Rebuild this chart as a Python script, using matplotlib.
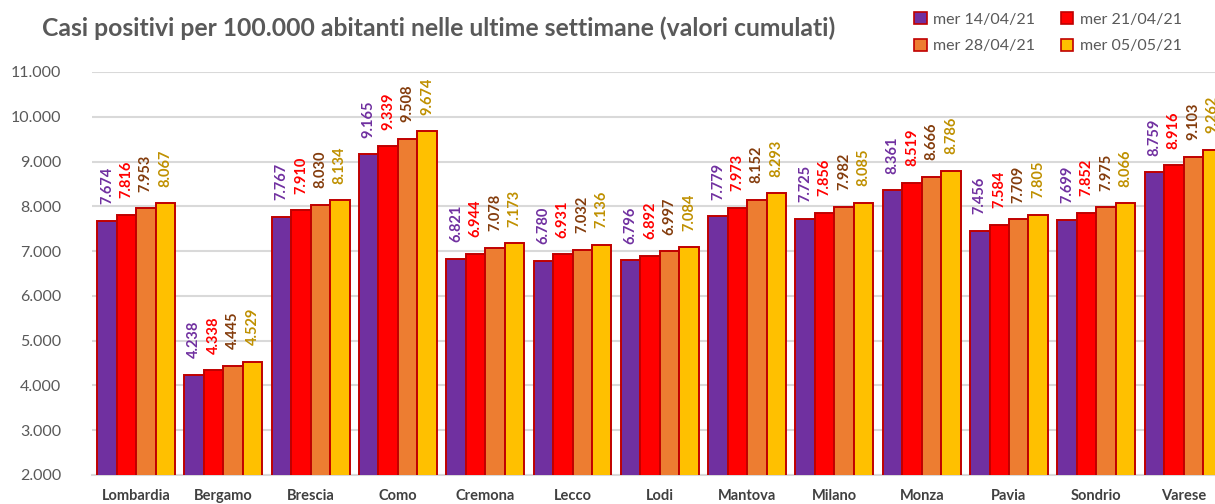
import numpy as np
import matplotlib
matplotlib.use("Agg")
import matplotlib.pyplot as plt
from matplotlib.ticker import FuncFormatter
from matplotlib.patches import Patch

plt.rcParams["font.family"] = ["Lato", "DejaVu Sans"]

province = ["Lombardia", "Bergamo", "Brescia", "Como", "Cremona", "Lecco", "Lodi",
            "Mantova", "Milano", "Monza", "Pavia", "Sondrio", "Varese"]
date_labels = ["mer 14/04/21", "mer 21/04/21", "mer 28/04/21", "mer 05/05/21"]

casi_14_04 = [7674, 4238, 7767, 9165, 6821, 6780, 6796, 7779, 7725, 8361, 7456, 7699, 8759]
casi_21_04 = [7816, 4338, 7910, 9339, 6944, 6931, 6892, 7973, 7856, 8519, 7584, 7852, 8916]
casi_28_04 = [7953, 4445, 8030, 9508, 7078, 7032, 6997, 8152, 7982, 8666, 7709, 7975, 9103]
casi_05_05 = [8067, 4529, 8134, 9674, 7173, 7136, 7084, 8293, 8085, 8786, 7805, 8066, 9262]

serie = [casi_14_04, casi_21_04, casi_28_04, casi_05_05]
colori = ["#7030A0", "#FF0000", "#ED7D31", "#FFC000"]
colori_label = ["#7030A0", "#FF0000", "#843C0C", "#BF9000"]
bordo = "#C00000"
grigio = "#595959"

fig = plt.figure(figsize=(12.15, 5.04), dpi=100)
ax = fig.add_axes([92 / 1215, 29 / 504, (1215 - 92) / 1215, (475 - 72) / 504])

x = np.arange(len(province))
w = 0.223
for i, (vals, col) in enumerate(zip(serie, colori)):
    pos = x + (i - 1.5) * w
    ax.bar(pos, np.array(vals), width=w, bottom=0, color=col,
           edgecolor=bordo, linewidth=1.4, zorder=3, label=date_labels[i])
    for px, v in zip(pos, vals):
        ax.annotate(f"{v / 1000:.3f}", xy=(px, v), xytext=(0, 12),
                    textcoords="offset points", rotation=90, ha="center",
                    va="bottom", fontsize=10.5, fontweight="bold",
                    color=colori_label[i], annotation_clip=False)

ax.set_ylim(2000, 11000)
ax.set_xlim(-0.505, 12.36)
ax.set_yticks(np.arange(2000, 11001, 1000))
ax.yaxis.set_major_formatter(FuncFormatter(lambda v, p: f"{int(v):,}".replace(",", ".")))
ax.set_xticks(x)
ax.set_xticklabels(province, fontsize=10.5, fontweight="bold", color="#404040")
ax.tick_params(axis="y", length=0, pad=22, labelsize=11.5, labelcolor=grigio)
ax.tick_params(axis="x", length=0, pad=10)
ax.grid(axis="y", color="#D9D9D9", linewidth=1.5, zorder=0)
for s in ["top", "right", "left"]:
    ax.spines[s].set_visible(False)
ax.spines["bottom"].set_color("#D9D9D9")
ax.spines["bottom"].set_linewidth(1.5)

fig.text(439 / 1215, 1 - 28 / 504, "Casi positivi per 100.000 abitanti nelle ultime settimane (valori cumulati)",
         ha="center", va="center", fontsize=17.8, fontweight="bold", color=grigio)

# legenda riga per riga come in Excel
ordine = [0, 2, 1, 3]
handles = [Patch(facecolor=colori[k], edgecolor=bordo, linewidth=1.2) for k in ordine]
fig.legend(handles, [date_labels[k] for k in ordine], loc="upper left",
           bbox_to_anchor=(898 / 1215, 1.008),
           ncol=2, frameon=True, facecolor="white", edgecolor="none", framealpha=1,
           fontsize=11.5, labelcolor=grigio, handlelength=0.8, handleheight=0.8,
           handletextpad=0.4, columnspacing=1.6, labelspacing=0.75, borderpad=0.5)

fig.savefig("out.png", dpi=100)
